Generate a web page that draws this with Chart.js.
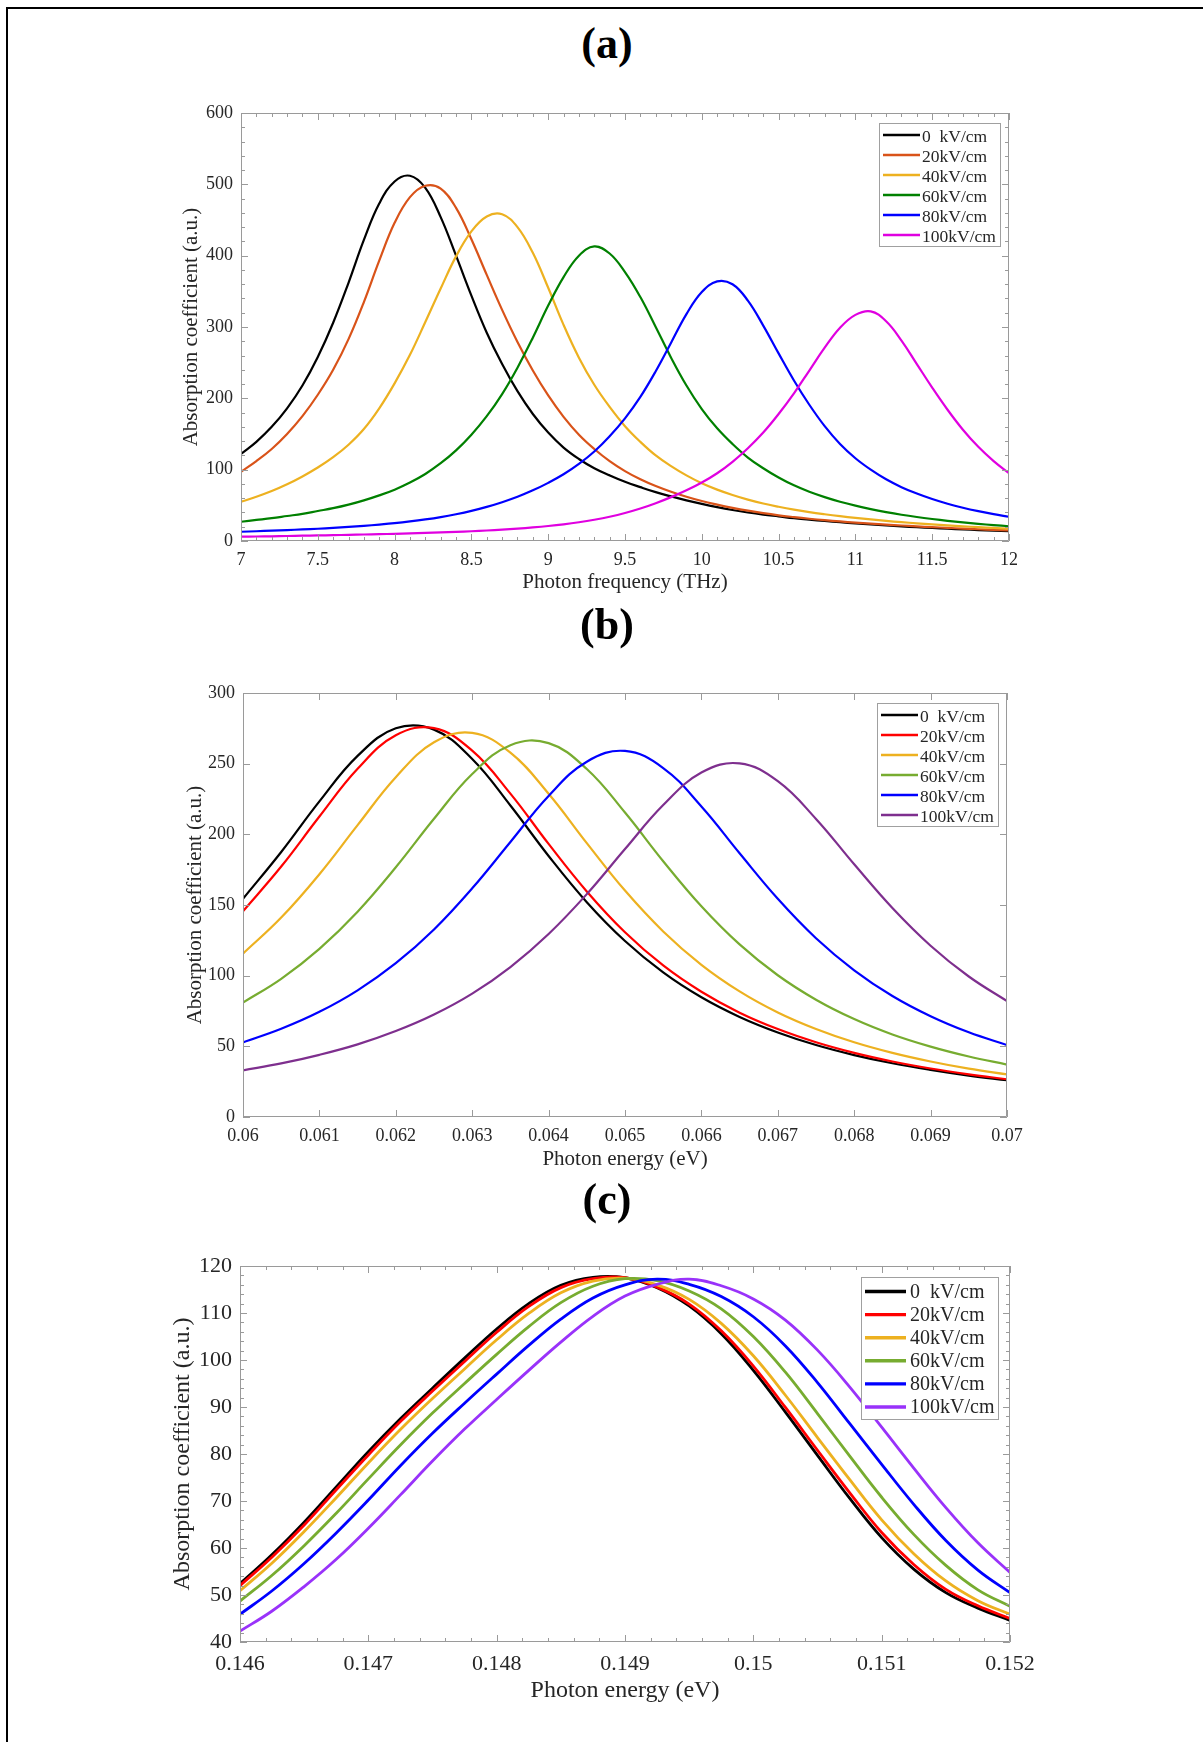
<!DOCTYPE html>
<html>
<head>
<meta charset="utf-8">
<title>Absorption coefficient vs. field</title>
<script src="https://cdn.jsdelivr.net/npm/chart.js@4.4.0/dist/chart.umd.min.js"></script>
<style>
  html, body { margin: 0; padding: 0; background: #fff; }
  #page { position: relative; width: 1203px; height: 1742px; overflow: hidden; background: #fff; }
  .rule-top { position: absolute; left: 6px; top: 7px; width: 1197px; height: 2px; background: #000; }
  .rule-left { position: absolute; left: 6px; top: 7px; width: 2px; height: 1735px; background: #000; }
  .tag { position: absolute; left: 507px; width: 200px; text-align: center;
         font: bold 44px 'Times New Roman', 'Liberation Serif', serif; line-height: 44px; color: #000; }
  canvas { position: absolute; left: 0; }
</style>
</head>
<body>
<div id="page">
  <div class="rule-top"></div>
  <div class="rule-left"></div>

  <div class="tag" style="top:22px">(a)</div>
  <canvas id="chartA" width="1203" height="530" style="top:90px"></canvas>

  <div class="tag" style="top:603px">(b)</div>
  <canvas id="chartB" width="1203" height="520" style="top:670px"></canvas>

  <div class="tag" style="top:1178px">(c)</div>
  <canvas id="chartC" width="1203" height="502" style="top:1240px"></canvas>
</div>

<script>
var SERIF = "'Times New Roman', 'Liberation Serif', serif";
var INK = '#262626';

var fieldLabels = ['0  kV/cm', '20kV/cm', '40kV/cm', '60kV/cm', '80kV/cm', '100kV/cm'];

/* ---------- (a) absorption vs photon frequency (THz) ---------- */
var freqA = [7.0, 7.1, 7.2, 7.3, 7.4, 7.5, 7.6, 7.7, 7.8, 7.9,
             8.0, 8.1, 8.2, 8.3, 8.4, 8.5, 8.6, 8.7, 8.8, 8.9,
             9.0, 9.1, 9.2, 9.3, 9.4, 9.5, 9.6, 9.7, 9.8, 9.9,
             10.0, 10.1, 10.2, 10.3, 10.4, 10.5, 10.6, 10.7, 10.8, 10.9,
             11.0, 11.1, 11.2, 11.3, 11.4, 11.5, 11.6, 11.7, 11.8, 11.9, 12.0];
var a0   = [122, 139, 160, 186, 218, 258, 306, 362, 422, 473,
            504, 512, 495, 454, 400, 344, 292, 248, 210, 178,
            152, 131, 115, 102, 92, 83, 75.5, 68.5, 62.5, 57,
            52, 47.5, 43.5, 40, 37, 34.5, 32, 30, 28, 26.3,
            24.7, 23.2, 21.8, 20.5, 19.3, 18.2, 17.2, 16.2, 15.3, 14.5, 13.7];
var a20  = [97, 112, 129, 150, 175, 205, 240, 283, 335, 393,
            446, 482, 498, 494, 467, 423, 373, 324, 279, 239,
            204, 174, 149, 129, 112, 98, 86.5, 77, 69, 62,
            56, 51, 46.5, 42.5, 39, 36, 33.5, 31.2, 29.2, 27.4,
            25.8, 24.3, 23, 21.7, 20.5, 19.4, 18.4, 17.4, 16.5, 15.6, 14.8];
var a40  = [55, 62, 70, 79.5, 90.5, 103, 117.5, 135, 157, 186,
            221, 261, 307, 354, 399, 434, 455, 458, 440, 404,
            355, 303, 257, 219, 188, 161, 139, 120, 105, 92,
            81, 72, 64.5, 58, 52.5, 48, 44, 40.5, 37.5, 34.8,
            32.4, 30.2, 28.2, 26.4, 24.8, 23.3, 21.9, 20.6, 19.4, 18.3, 17.3];
var a60  = [27, 29.5, 32, 35, 38, 42, 46, 51, 57, 64,
            72, 82, 94, 109, 127, 149, 175, 206, 243, 285,
            330, 370, 400, 413, 403, 377, 342, 300, 257, 218,
            185, 158, 136, 117, 102, 89, 78, 69, 61.5, 55,
            49.5, 44.7, 40.5, 36.8, 33.6, 30.8, 28.3, 26.1, 24.1, 22.3, 20.7];
var a80  = [13, 13.7, 14.5, 15.3, 16.2, 17.2, 18.4, 19.7, 21.2, 23,
            25, 27.4, 30.2, 33.5, 37.5, 42.2, 47.8, 54.4, 62, 71,
            81.5, 93.5, 108, 125.5, 147, 172, 202, 238, 278, 318,
            349, 364, 360, 337, 302, 263, 225, 191, 161, 136,
            116, 100, 86.5, 75.5, 66.5, 58.8, 52.2, 46.6, 41.8, 37.6, 34];
var a100 = [6, 6.3, 6.6, 7, 7.4, 7.8, 8.2, 8.6, 9.1, 9.6,
            10.1, 10.7, 11.3, 12, 12.8, 13.7, 14.7, 15.9, 17.3, 19,
            21, 23.4, 26.3, 29.8, 34, 39.2, 45.5, 53, 61.5, 71,
            82, 95, 111, 130, 152, 178, 207, 239, 271, 299,
            317, 322, 308, 281, 248, 215, 184, 156, 132, 112, 95];
var ticksAX = [7, 7.5, 8, 8.5, 9, 9.5, 10, 10.5, 11, 11.5, 12];
var ticksAY = [0, 100, 200, 300, 400, 500, 600];

/* ---------- (b) absorption vs photon energy (eV), ~0.065 eV band ---------- */
var energyB = [0.0600, 0.0605, 0.0610, 0.0615, 0.0620, 0.0625, 0.0630, 0.0635, 0.0640, 0.0645,
               0.0650, 0.0655, 0.0660, 0.0665, 0.0670, 0.0675, 0.0680, 0.0685, 0.0690, 0.0695, 0.0700];
var b0   = [154.4, 187.5, 223.3, 255.5, 275.0, 274.1, 253.3, 220.4, 184.7, 152.0,
            124.5, 102.3, 84.7, 70.8, 59.8, 50.9, 43.8, 38.0, 33.3, 29.3, 26.0];
var b20  = [145.6, 177.2, 212.6, 246.4, 270.1, 275.1, 259.2, 228.8, 193.2, 159.6,
            130.7, 107.2, 88.6, 73.8, 62.2, 52.9, 45.4, 39.3, 34.3, 30.2, 26.7];
var b40  = [115.6, 141.1, 171.8, 206.5, 240.4, 265.1, 271.8, 257.8, 228.7, 193.8,
            160.2, 131.3, 107.7, 88.9, 74.0, 62.3, 52.9, 45.4, 39.3, 34.2, 30.1];
var b60  = [81.0, 97.8, 119.0, 145.3, 176.7, 211.0, 242.7, 263.1, 264.5, 246.2,
            215.4, 181.0, 149.1, 122.1, 100.3, 83.0, 69.3, 58.4, 49.8, 42.8, 37.1];
var b80  = [52.8, 62.4, 74.4, 89.6, 108.8, 132.7, 161.8, 194.6, 227.2, 251.4,
            259.0, 246.9, 219.7, 186.6, 154.4, 126.5, 103.8, 85.6, 71.3, 59.9, 50.9];
var b100 = [33.0, 37.9, 44.0, 51.4, 60.8, 72.5, 87.3, 106.1, 129.5, 157.7,
            189.6, 220.7, 243.7, 250.2, 237.6, 210.9, 178.8, 147.9, 121.2, 99.4, 82.0];
var ticksBX = [0.060, 0.061, 0.062, 0.063, 0.064, 0.065, 0.066, 0.067, 0.068, 0.069, 0.070];
var ticksBY = [0, 50, 100, 150, 200, 250, 300];

/* ---------- (c) absorption vs photon energy (eV), ~0.149 eV band ---------- */
var energyC = [0.14600, 0.14625, 0.14650, 0.14675, 0.14700, 0.14725, 0.14750, 0.14775, 0.14800,
               0.14825, 0.14850, 0.14875, 0.14900, 0.14925, 0.14950, 0.14975, 0.15000,
               0.15025, 0.15050, 0.15075, 0.15100, 0.15125, 0.15150, 0.15175, 0.15200];
var c0   = [52.4, 58.6, 65.5, 73.0, 80.5, 87.5, 94.0, 100.4, 106.6, 112.0, 115.9, 117.6, 117.5,
            115.4, 111.5, 105.6, 97.8, 88.9, 79.7, 70.6, 62.2, 55.5, 50.5, 47.2, 44.6];
var c20  = [52.0, 58.1, 64.9, 72.4, 79.8, 86.9, 93.4, 99.7, 105.9, 111.4, 115.4, 117.3, 117.5,
            115.5, 111.9, 106.2, 98.7, 89.9, 80.8, 71.8, 63.3, 56.5, 51.2, 47.7, 45.0];
var c40  = [50.9, 56.8, 63.5, 70.7, 78.1, 85.2, 91.8, 98.1, 104.3, 109.9, 114.3, 116.8, 117.4,
            116.0, 112.9, 107.8, 100.9, 92.5, 83.5, 74.6, 66.0, 58.8, 53.0, 48.8, 45.9];
var c60  = [48.7, 54.2, 60.5, 67.4, 74.7, 81.9, 88.7, 95.0, 101.2, 107.1, 112.2, 115.7, 117.3,
            116.9, 114.7, 110.9, 105.0, 97.4, 88.6, 79.6, 70.8, 62.9, 56.3, 51.1, 47.6];
var c80  = [45.9, 50.9, 56.7, 63.2, 70.2, 77.5, 84.4, 90.8, 97.0, 103.1, 108.7, 113.2, 116.0,
            117.2, 116.1, 113.5, 109.2, 103.0, 95.2, 86.5, 77.8, 69.3, 61.6, 55.3, 50.5];
var c100 = [42.3, 46.6, 51.8, 57.6, 64.2, 71.3, 78.5, 85.3, 91.6, 97.8, 103.8, 109.3, 113.6,
            116.1, 117.2, 115.8, 113.0, 108.5, 102.1, 94.3, 85.7, 77.0, 68.6, 61.1, 54.8];
var ticksCX = [0.146, 0.147, 0.148, 0.149, 0.150, 0.151, 0.152];
var ticksCY = [40, 50, 60, 70, 80, 90, 100, 110, 120];

var coloursA = ['#000000', '#D95319', '#EDB120', '#008000', '#0000FF', '#E000E0'];
var coloursB = ['#000000', '#FF0000', '#EDB120', '#77AC30', '#0000FF', '#7E2F8E'];
var coloursC = ['#000000', '#FF0000', '#EDB120', '#77AC30', '#0000FF', '#9932FA'];

/* box round the plot with inward ticks on all four sides */
var axesBox = {
  id: 'axesBox',
  afterDatasetsDraw: function (chart, args, o) {
    var ctx = chart.ctx, a = chart.chartArea;
    var xs = chart.scales.x, ys = chart.scales.y;
    ctx.save();
    ctx.strokeStyle = o.color;
    ctx.lineWidth = 1;
    ctx.beginPath();
    ctx.rect(Math.round(a.left) + 0.5, Math.round(a.top) + 0.5,
             Math.round(a.right - a.left) - 1, Math.round(a.bottom - a.top) - 1);
    function tickX(v, len) {
      var p = Math.round(xs.getPixelForValue(v)) + 0.5;
      ctx.moveTo(p, a.bottom); ctx.lineTo(p, a.bottom - len);
      ctx.moveTo(p, a.top); ctx.lineTo(p, a.top + len);
    }
    function tickY(v, len) {
      var p = Math.round(ys.getPixelForValue(v)) + 0.5;
      ctx.moveTo(a.left, p); ctx.lineTo(a.left + len, p);
      ctx.moveTo(a.right, p); ctx.lineTo(a.right - len, p);
    }
    xs.ticks.forEach(function (t, i) {
      tickX(t.value, o.major);
      if (o.minorX && i < xs.ticks.length - 1) {
        var s = (xs.ticks[i + 1].value - t.value) / o.minorX;
        for (var k = 1; k < o.minorX; k++) tickX(t.value + k * s, o.minor);
      }
    });
    ys.ticks.forEach(function (t, i) {
      tickY(t.value, o.major);
      if (o.minorY && i < ys.ticks.length - 1) {
        var s = (ys.ticks[i + 1].value - t.value) / o.minorY;
        for (var k = 1; k < o.minorY; k++) tickY(t.value + k * s, o.minor);
      }
    });
    ctx.stroke();
    ctx.restore();
  }
};

/* legend box in the upper right corner of the plot */
var cornerLegend = {
  id: 'cornerLegend',
  afterDraw: function (chart, args, o) {
    var ctx = chart.ctx, a = chart.chartArea;
    var left = Math.round(a.right - o.right - o.width), top = Math.round(a.top + o.top);
    ctx.save();
    ctx.fillStyle = '#fff';
    ctx.fillRect(left, top, o.width, o.height);
    ctx.strokeStyle = '#a0a0a0';
    ctx.lineWidth = 1;
    ctx.strokeRect(left + 0.5, top + 0.5, o.width, o.height);
    ctx.font = o.fontSize + 'px ' + SERIF;
    ctx.textBaseline = 'middle';
    ctx.textAlign = 'left';
    chart.data.datasets.forEach(function (ds, i) {
      var y = top + o.first + i * o.step;
      ctx.strokeStyle = ds.borderColor;
      ctx.lineWidth = o.lineWidth;
      ctx.beginPath();
      ctx.moveTo(left + o.lineFrom, y);
      ctx.lineTo(left + o.lineTo, y);
      ctx.stroke();
      ctx.fillStyle = INK;
      ctx.fillText(ds.label, left + o.textAt, y + o.textDy);
    });
    ctx.restore();
  }
};

function fmt(v) { return String(Number(v.toFixed(4))); }

function makePanel(id, p) {
  var datasets = p.series.map(function (ys, i) {
    return {
      label: fieldLabels[i],
      data: p.xs.map(function (x, k) { return { x: x, y: ys[k] }; }),
      borderColor: p.colours[i],
      borderWidth: p.lineWidth,
      pointRadius: 0,
      tension: 0.4,
      fill: false,
      order: p.series.length - i
    };
  });
  return new Chart(document.getElementById(id), {
    type: 'line',
    data: { datasets: datasets },
    options: {
      responsive: false,
      animation: false,
      devicePixelRatio: 1,
      events: [],
      layout: { padding: { left: 0, right: p.padRight, top: p.padTop, bottom: 0 } },
      plugins: {
        legend: { display: false },
        tooltip: { enabled: false },
        axesBox: { color: '#9a9a9a', major: 7, minor: 4, minorX: p.minorX, minorY: p.minorY },
        cornerLegend: p.legend
      },
      scales: {
        x: {
          type: 'linear', min: p.xTicks[0], max: p.xTicks[p.xTicks.length - 1],
          afterBuildTicks: function (s) { s.ticks = p.xTicks.map(function (v) { return { value: v }; }); },
          afterFit: function (s) { s.height = p.xAxisHeight; },
          grid: { display: false, drawTicks: false },
          border: { display: false },
          ticks: { font: { family: SERIF, size: p.tickSize }, color: INK, padding: p.xTickPad,
                   maxRotation: 0, autoSkip: false, callback: fmt },
          title: { display: true, text: p.xTitle, color: INK, font: { family: SERIF, size: p.titleSize },
                   padding: { top: 0, bottom: p.xTitlePad } }
        },
        y: {
          type: 'linear', min: p.yTicks[0], max: p.yTicks[p.yTicks.length - 1],
          afterBuildTicks: function (s) { s.ticks = p.yTicks.map(function (v) { return { value: v }; }); },
          afterFit: function (s) { s.width = p.yAxisWidth; },
          grid: { display: false, drawTicks: false },
          border: { display: false },
          ticks: { font: { family: SERIF, size: p.tickSize }, color: INK, padding: 8, autoSkip: false, callback: fmt },
          title: { display: true, text: 'Absorption coefficient (a.u.)', color: INK,
                   font: { family: SERIF, size: p.titleSize }, padding: { top: p.yTitlePad, bottom: 0 } }
        }
      }
    },
    plugins: [axesBox, cornerLegend]
  });
}

var smallLegend = { right: 9, top: 10, width: 121, height: 123, first: 12, step: 20,
                    lineFrom: 4, lineTo: 41, textAt: 43, textDy: 2, fontSize: 17.5, lineWidth: 2.4 };

makePanel('chartA', {
  xs: freqA, series: [a0, a20, a40, a60, a80, a100], colours: coloursA,
  xTicks: ticksAX, yTicks: ticksAY, minorX: 5, minorY: 5,
  xTitle: 'Photon frequency (THz)', lineWidth: 2.2,
  padRight: 194, padTop: 23, yAxisWidth: 241, xAxisHeight: 79,
  tickSize: 18, titleSize: 21, xTickPad: 8, xTitlePad: 25.4, yTitlePad: 178.4,
  legend: smallLegend
});

makePanel('chartB', {
  xs: energyB, series: [b0, b20, b40, b60, b80, b100], colours: coloursB,
  xTicks: ticksBX, yTicks: ticksBY, minorX: 0, minorY: 0,
  xTitle: 'Photon energy (eV)', lineWidth: 2.2,
  padRight: 196, padTop: 23, yAxisWidth: 243, xAxisHeight: 73,
  tickSize: 18, titleSize: 21, xTickPad: 8, xTitlePad: 18.4, yTitlePad: 182.9,
  legend: smallLegend
});

makePanel('chartC', {
  xs: energyC, series: [c0, c20, c40, c60, c80, c100], colours: coloursC,
  xTicks: ticksCX, yTicks: ticksCY, minorX: 5, minorY: 5,
  xTitle: 'Photon energy (eV)', lineWidth: 2.8,
  padRight: 193, padTop: 26, yAxisWidth: 240, xAxisHeight: 100,
  tickSize: 22, titleSize: 24, xTickPad: 9, xTitlePad: 36.9, yTitlePad: 168.6,
  legend: { right: 12, top: 11, width: 137, height: 142, first: 14.5, step: 23.1,
            lineFrom: 4, lineTo: 45, textAt: 49, textDy: 1, fontSize: 20, lineWidth: 3.4 }
});
</script>
</body>
</html>
